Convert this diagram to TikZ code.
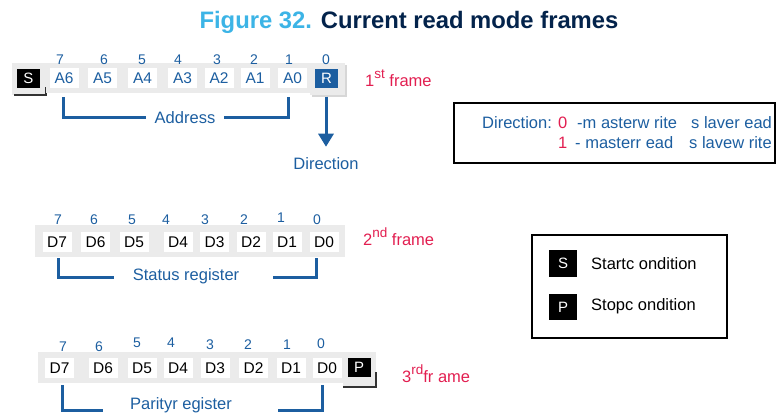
\documentclass[tikz,border=0pt]{standalone}
\usepackage{fontspec}
\setmainfont{Liberation Sans}
\usetikzlibrary{arrows.meta}
\definecolor{stblue}{RGB}{28,94,160}
\definecolor{stred}{RGB}{226,30,80}
\definecolor{ttlblue}{RGB}{60,180,230}
\definecolor{ttlnavy}{RGB}{3,35,75}
\definecolor{bandgray}{RGB}{235,235,235}
\definecolor{shadegray}{RGB}{215,215,215}
\newcommand{\supx}[1]{\raisebox{7.5pt}{\fontsize{13.5}{15}\selectfont #1}}
\tikzset{
  cell/.style={fill=white, minimum width=29pt, minimum height=20pt, inner sep=0pt, font=\fontsize{15.5}{18}\selectfont},
  blk/.style={fill=black, text=white, minimum width=23pt, minimum height=19pt, inner sep=0pt, font=\fontsize{15}{18}\selectfont},
  num/.style={text=stblue, font=\fontsize{14}{16}\selectfont, inner sep=0pt},
  lbl/.style={text=stblue, font=\fontsize{16.5}{19}\selectfont, inner sep=0pt},
  frm/.style={text=stred, font=\fontsize{16.5}{19}\selectfont, inner sep=0pt, anchor=base west},
  brk/.style={draw=stblue, line width=3pt},
  band/.style={fill=bandgray},
  shadow/.style={draw=black!80, line width=1.3pt},
  txt/.style={font=\fontsize{16.5}{19}\selectfont, inner sep=0pt, anchor=base west}
}
\begin{document}
\begin{tikzpicture}[x=1pt,y=-1pt]
\useasboundingbox (0,0) rectangle (777,415);
% title
\node[anchor=base, inner sep=0pt, font=\fontsize{23.8}{28}\selectfont\bfseries] (title) at (409,28)
  {\textcolor{ttlblue}{Figure 32.} \textcolor{ttlnavy}{Current read mode frames}};

% ---------- frame 1 ----------
\fill[band] (12,63) rectangle (46,95);
\draw[shadow] (14,95) -- (46,95) -- (46,87);
\fill[band] (46,63) rectangle (310,93);
\fill[shadegray] (312,65) rectangle (347,97);
\fill[band] (310,63) rectangle (345,95);
\node[blk] (S1) at (28.5,78) {S};
\node[cell, text=stblue] (A6) at (64,78) {A6};
\node[cell, text=stblue] (A5) at (102.5,78) {A5};
\node[cell, text=stblue] (A4) at (142.5,78) {A4};
\node[cell, text=stblue] (A3) at (182.5,78) {A3};
\node[cell, text=stblue] (A2) at (219,78) {A2};
\node[cell, text=stblue] (A1) at (255,78) {A1};
\node[cell, text=stblue] (A0) at (292.5,78) {A0};
\node[blk, fill=stblue] (R) at (326.5,78) {R};
\foreach \n/\x in {7/60,6/104,5/142,4/178,3/217,2/254,1/289,0/326}
  \node[num] (fa\n) at (\x,60) {\n};
\node[lbl] (addr) at (185,118) {Address};
\draw[brk] ([xshift=-1pt,yshift=-9pt]A6.south) |- ([xshift=-9pt,yshift=1pt]addr.west);
\draw[brk] ([xshift=-4.5pt,yshift=-9pt]A0.south) |- ([xshift=9pt,yshift=1pt]addr.east);
\node[lbl] (dir) at (326,164) {Direction};
\draw[draw=stblue, line width=3pt, -{Triangle[width=15pt,length=13pt]}]
  ([xshift=-0.5pt,yshift=-9pt]R.south) -- ([yshift=11pt]dir.north);
\node[frm] (f1) at (365,86) {1\supx{st} frame};

% direction box
\draw[line width=1.8pt] (454,103) rectangle (775,163);
\node[txt, text=stblue] (d0a) at (482,128) {Direction:};
\node[txt, text=stred] (d0b) at (558,128) {0};
\node[txt, text=stblue] (d0c) at (577,128) {-m asterw rite};
\node[txt, text=stblue] (d0d) at (691,128) {s laver ead};
\node[txt, text=stred] (d1b) at (558,148) {1};
\node[txt, text=stblue] (d1c) at (575,148) {- masterr ead};
\node[txt, text=stblue] (d1d) at (689,148) {s lavew rite};

% ---------- frame 2 ----------
\fill[band] (35,225) rectangle (345,257);
\node[cell] (B7) at (57,242) {D7};
\node[cell] (B6) at (95.5,242) {D6};
\node[cell] (B5) at (134,242) {D5};
\node[cell] (B4) at (178,242) {D4};
\node[cell] (B3) at (214.5,242) {D3};
\node[cell] (B2) at (251,242) {D2};
\node[cell] (B1) at (287,242) {D1};
\node[cell] (B0) at (324,242) {D0};
\foreach \n/\x/\y in {7/58/220,6/94/220,5/132/220,4/166/220,3/205/220,2/244/220,1/281/218,0/317/220}
  \node[num] (fb\n) at (\x,\y) {\n};
\node[lbl] (stat) at (186,276) {Status register};
\draw[brk] ([xshift=1pt,yshift=-6pt]B7.south) |- ([xshift=-19pt,yshift=-1pt]stat.west);
\draw[brk] ([xshift=-8pt,yshift=-6pt]B0.south) |- ([xshift=34pt,yshift=-1pt]stat.east);
\node[frm] (f2) at (363,245) {2\supx{nd} frame};

% ---------- frame 3 ----------
\fill[band] (38,352) rectangle (343,383);
\fill[band] (343,352) rectangle (376,387);
\draw[shadow] (343,387) -- (376,387) -- (376,372);
\node[cell] (C7) at (59.5,368) {D7};
\node[cell] (C6) at (103,368) {D6};
\node[cell] (C5) at (142,368) {D5};
\node[cell] (C4) at (178,368) {D4};
\node[cell] (C3) at (215,368) {D3};
\node[cell] (C2) at (253.5,368) {D2};
\node[cell] (C1) at (291,368) {D1};
\node[cell] (C0) at (327,368) {D0};
\node[blk] (P3) at (359,367.5) {P};
\foreach \n/\x/\y in {7/63/347,6/99/347,5/137/343,4/171/343,3/210/345,2/248/345,1/287/345,0/321/344}
  \node[num] (fc\n) at (\x,\y) {\n};
\node[lbl] (par) at (181,405) {Parityr egister};
\draw[brk] ([xshift=2.5pt,yshift=-7pt]C7.south) |- ([xshift=-27pt,yshift=-5pt]par.west);
\draw[brk] ([xshift=-5pt,yshift=-7pt]C0.south) |- ([xshift=46pt,yshift=-5pt]par.east);
\node[frm] (f3) at (402,382) {3\supx{rd}fr ame};

% ---------- legend ----------
\draw[line width=1.6pt] (532,235) rectangle (727,338);
\node[blk, minimum width=28pt, minimum height=27pt] (LS) at (563,263.5) {S};
\node[blk, minimum width=28pt, minimum height=26pt] (LP) at (563,307) {P};
\node[txt, anchor=west] (ls) at (591,264) {Startc ondition};
\node[txt, anchor=west] (lp) at (591,306) {Stopc ondition};
\end{tikzpicture}
\end{document}
